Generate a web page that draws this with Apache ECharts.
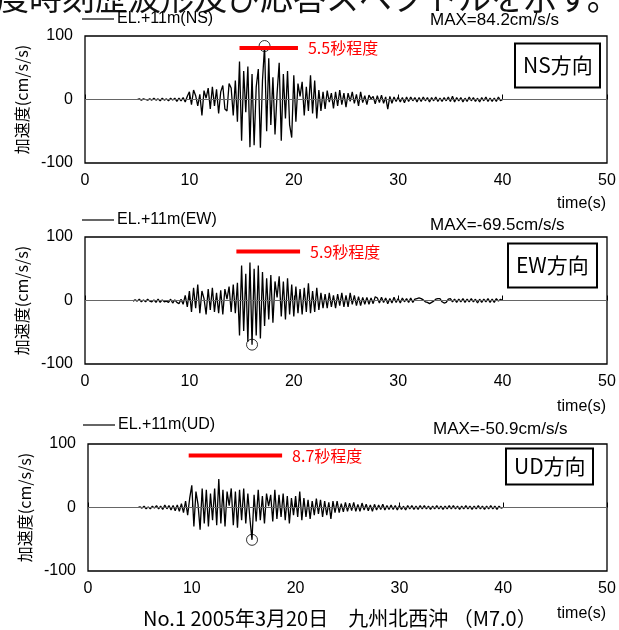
<!DOCTYPE html>
<html><head><meta charset="utf-8">
<script src="https://cdn.jsdelivr.net/npm/echarts@6/dist/echarts.min.js"></script>
<style>html,body{margin:0;padding:0;background:#fff}#c{width:619px;height:630px}</style>
</head><body><div id="c"></div>
<script>
// ---- data ----
const xTicks = [0, 10, 20, 30, 40, 50];
const yTicks = [-100, 0, 100];
const dt = 0.2;
const nsStart = 5.0, ewStart = 4.6, udStart = 4.8;

const nsValues = [
  0, 1, -1, 1, 0,
  -1, 1, -1, 2, -1,
  1, -2, 2, -1, 1,
  -2, 2, -1, 2, -3,
  2, -2, 3, -4, 5,
  12, -8, 15, 6, -10,
  8, -25, 14, 2, 18,
  -15, 20, -10, 16, -22,
  12, 22, -15, -18, 25,
  18, -25, 30, -35, 60,
  -65, 45, -20, 52, -75,
  40, -72, 20, 48, -76,
  30, 84.2, -50, 65, -40,
  35, -55, 10, 58, -65,
  40, -30, 45, -40, -60,
  38, -35, 25, 5, 28,
  -25, 20, -18, 38, -22,
  30, -30, 15, -18, 12,
  -15, 14, -4, 10, -14,
  12, -10, 15, -8, 10,
  -12, 10, -3, 12, -6,
  8, -10, 12, -5, 6,
  -8, 7, 1, 5, -7,
  6, -5, 7, -6, 4,
  -15, 5, -6, 4, -3,
  4, -4, 3, -5, 4,
  -3, 4, -2, 3, -4,
  3, -3, 4, -2, 3,
  -4, 3, -2, 4, -3,
  2, -3, 3, -2, 4,
  -3, 5, -4, 3, -2,
  3, -4, 2, -3, 4,
  -2, 3, -3, 2, -4,
  3, -2, 4, -3, 2,
  -3, 2, -3, 4, -2,
  0
];
const ewValues = [
  -1, 1,
  -1, 2, -2, 1, -2,
  2, -1, -2, 1, -3,
  2, -3, 1, -2, -1,
  -3, 2, -4, 1, -3,
  -5, 2, -6, 8, -10,
  15, -18, 20, -12, 25,
  -20, 15, 3, -22, 18,
  -15, 20, -18, 12, -20,
  16, -22, 18, 2, 22,
  -18, 25, -20, 28, -55,
  55, -48, 42, -65, 60,
  -69.5, 50, -55, 55, -60,
  45, -40, 35, -30, 40,
  -35, 30, 5, 38, -25,
  30, -30, 35, -22, 25,
  -25, 22, -20, 18, -22,
  20, -18, 27, -20, 15,
  -18, 20, -15, 12, -12,
  10, -12, 12, -10, 8,
  -12, 10, -8, 12, -10,
  8, -10, 12, -6, 8,
  -8, 6, -8, 5, -6,
  5, -6, 4, -5, 6,
  4, -4, 5, -3, 4,
  -5, 3, -4, 5, -3,
  3, -4, 4, -2, 3,
  -3, 4, -3, 2, 3,
  4, 3, 1, -2, -3,
  -5, -3, -1, 2, 3,
  3, -2, -4, -3, 2,
  3, -2, 2, -3, 2,
  -2, 3, -3, 2, -2,
  3, -2, 2, -4, 2,
  -3, 2, -2, 3, -3,
  2, -3, 3, -1, 2,
  0
];
const udValues = [
  0,
  1, -1, 2, -2, 1,
  -2, 2, -1, 3, -2,
  2, -3, 4, -2, 3,
  -4, 3, -5, 4, -6,
  6, -8, 10, -12, 15,
  35, -30, 25, 5, -35,
  30, -25, 28, -30, 22,
  -20, 30, -28, 45, -25,
  28, -30, 25, 3, 30,
  -28, 25, -32, 28, -20,
  30, -25, 22, -18, -50.9,
  20, -22, 28, -20, 18,
  -25, 22, 2, 20, -22,
  28, -18, 20, -15, 22,
  -20, 18, -25, 15, -12,
  18, -15, 25, -20, 15,
  -15, 12, -18, 10, -12,
  14, -10, 12, -15, 10,
  -12, 8, -18, 10, -8,
  10, -8, 6, -7, 8,
  -6, 7, -5, 8, -6,
  5, -6, 7, -4, 5,
  -5, 4, -6, 5, -4,
  4, -3, 5, -4, 3,
  -3, 4, -3, 3, -4,
  3, -3, 2, -4, 3,
  -2, 3, -3, 2, -3,
  3, -2, 3, -2, 2,
  -3, 2, -2, 3, -2,
  2, -3, 2, -2, 3,
  -2, 3, -2, 2, -3,
  2, -2, 3, -2, 2,
  -3, 2, -2, 3, -2,
  2, -3, 2, -2, 3,
  -2, 2, -3, 2, -1,
  0
];
const seriesNames = ['EL.+11m(NS)', 'EL.+11m(EW)', 'EL.+11m(UD)'];
const maxTexts = ['MAX=84.2cm/s/s', 'MAX=-69.5cm/s/s', 'MAX=-50.9cm/s/s'];
const dirTexts = ['NS方向', 'EW方向', 'UD方向'];
const peakNS = [17.2, 84.2], peakEW = [16.0, -69.5], peakUD = [15.8, -50.9];
const barNS = [14.8, 20.4], barEW = [14.5, 20.6], barUD = [9.7, 18.7];
const barLevels = [81, 77, 82];
const durTexts = ['5.5秒程度', '5.9秒程度', '8.7秒程度'];
const caption = 'No.1 2005年3月20日　九州北西沖 （M7.0）';
const topText = '度時刻歴波形及び応答スペクトルを示す。';

// ---- build ----
function toPairs(start, vals) { return vals.map((v, i) => [+(start + i * dt).toFixed(2), v]); }
const traces = [toPairs(nsStart, nsValues), toPairs(ewStart, ewValues), toPairs(udStart, udValues)];
const peaks = [peakNS, peakEW, peakUD];
const bars = [barNS, barEW, barUD];

const JP = '"Noto Sans CJK JP", sans-serif';
const LAT = '"Liberation Sans", Arial, sans-serif';
const NAR = '"Liberation Sans Narrow", "Liberation Sans", sans-serif';

const grids = [
  { left: 85, top: 36, width: 522, height: 127 },
  { left: 85, top: 237, width: 522, height: 127 },
  { left: 88, top: 444, width: 519, height: 127 }
];
const legendTops = [11, 212, 417];
const legendLefts = [82, 82, 83];
const maxTops = [12, 217, 421];
const maxLefts = [430, 430, 433];
const timeTops = [196, 399, 606];
const boxes = [
  { left: 515, top: 43, h: 47 },
  { left: 508, top: 243, h: 47 },
  { left: 506, top: 448, h: 39 }
];

const option = {
  animation: false,
  backgroundColor: '#fff',
  grid: grids.map(g => Object.assign({ show: true, borderColor: '#000', borderWidth: 1.3, backgroundColor: 'transparent' }, g)),
  xAxis: grids.map((g, i) => ({
    type: 'value', gridIndex: i, min: xTicks[0], max: xTicks[xTicks.length - 1], interval: 10,
    axisLine: { show: false },
    axisTick: { show: true, inside: true, length: 5, lineStyle: { color: '#000' } },
    splitLine: { show: false },
    axisLabel: { fontSize: 16, color: '#000', margin: 10, fontFamily: LAT }
  })),
  yAxis: grids.map((g, i) => ({
    type: 'value', gridIndex: i, min: yTicks[0], max: yTicks[2], interval: 100,
    axisLine: { show: false }, axisTick: { show: false }, splitLine: { show: false },
    axisLabel: { fontSize: 16, color: '#000', margin: 12, fontFamily: LAT },
    name: '加速度(cm/s/s)', nameLocation: 'middle', nameRotate: 90, nameGap: 54,
    nameTextStyle: { fontSize: 16, color: '#000', fontFamily: JP }
  })),
  legend: grids.map((g, i) => ({
    data: [seriesNames[i]], left: legendLefts[i], top: legendTops[i], padding: 0,
    icon: 'rect', itemWidth: 32, itemHeight: 1.2, itemGap: 0,
    textStyle: { fontSize: 16, color: '#000', fontFamily: NAR, padding: [0, 0, 0, -2] },
    selectedMode: false
  })),
  title: [
    ...maxTexts.map((t, i) => ({ text: t, left: maxLefts[i], top: maxTops[i], padding: 0,
      textStyle: { fontSize: 17, fontWeight: 'normal', color: '#000', fontFamily: NAR } })),
    ...dirTexts.map((t, i) => ({ text: t, left: boxes[i].left, top: boxes[i].top,
      padding: [(boxes[i].h - 22) / 2 - 1, 8], borderWidth: 2, borderColor: '#000', backgroundColor: '#fff',
      textStyle: { fontSize: 21, lineHeight: 22, fontWeight: 'normal', color: '#000', fontFamily: JP } })),
    ...timeTops.map(tp => ({ text: 'time(s)', right: 13, top: tp, padding: 0,
      textStyle: { fontSize: 16, fontWeight: 'normal', color: '#000', fontFamily: NAR } })),
    { text: caption, left: 143, top: 608, padding: 0,
      textStyle: { fontSize: 20, fontWeight: 'normal', color: '#000', fontFamily: JP } }
  ],
  graphic: [
    { type: 'text', x: -4, y: -3, style: { text: topText, fill: '#111', verticalAlign: 'middle', font: '33px "Noto Sans CJK JP"' } }
  ],
  series: []
};

traces.forEach((tr, i) => {
  option.series.push({
    name: seriesNames[i], type: 'line', xAxisIndex: i, yAxisIndex: i, data: tr,
    showSymbol: false, symbol: 'none', lineStyle: { color: '#000', width: 1.3 }, itemStyle: { color: '#000' },
    silent: true,
    markLine: { silent: true, symbol: 'none', label: { show: false },
      lineStyle: { color: '#666', width: 1, type: 'solid' }, data: [{ yAxis: 0 }] }
  });
  option.series.push({
    name: 'bar' + i, type: 'line', xAxisIndex: i, yAxisIndex: i,
    data: [[bars[i][0], barLevels[i]], [bars[i][1], barLevels[i]]],
    showSymbol: false, symbol: 'none', lineStyle: { color: '#f00', width: 4 }, silent: true,
    endLabel: { show: true, formatter: durTexts[i], color: '#f00', fontSize: 16, distance: 10, fontFamily: JP }
  });
  option.series.push({
    name: 'peak' + i, type: 'scatter', xAxisIndex: i, yAxisIndex: i, data: [peaks[i]],
    symbol: 'circle', symbolSize: 11, silent: true,
    itemStyle: { color: 'rgba(0,0,0,0)', borderColor: '#000', borderWidth: 1 }
  });
});

const chart = echarts.init(document.getElementById('c'), null, { renderer: 'canvas' });
chart.setOption(option);
</script></body></html>
